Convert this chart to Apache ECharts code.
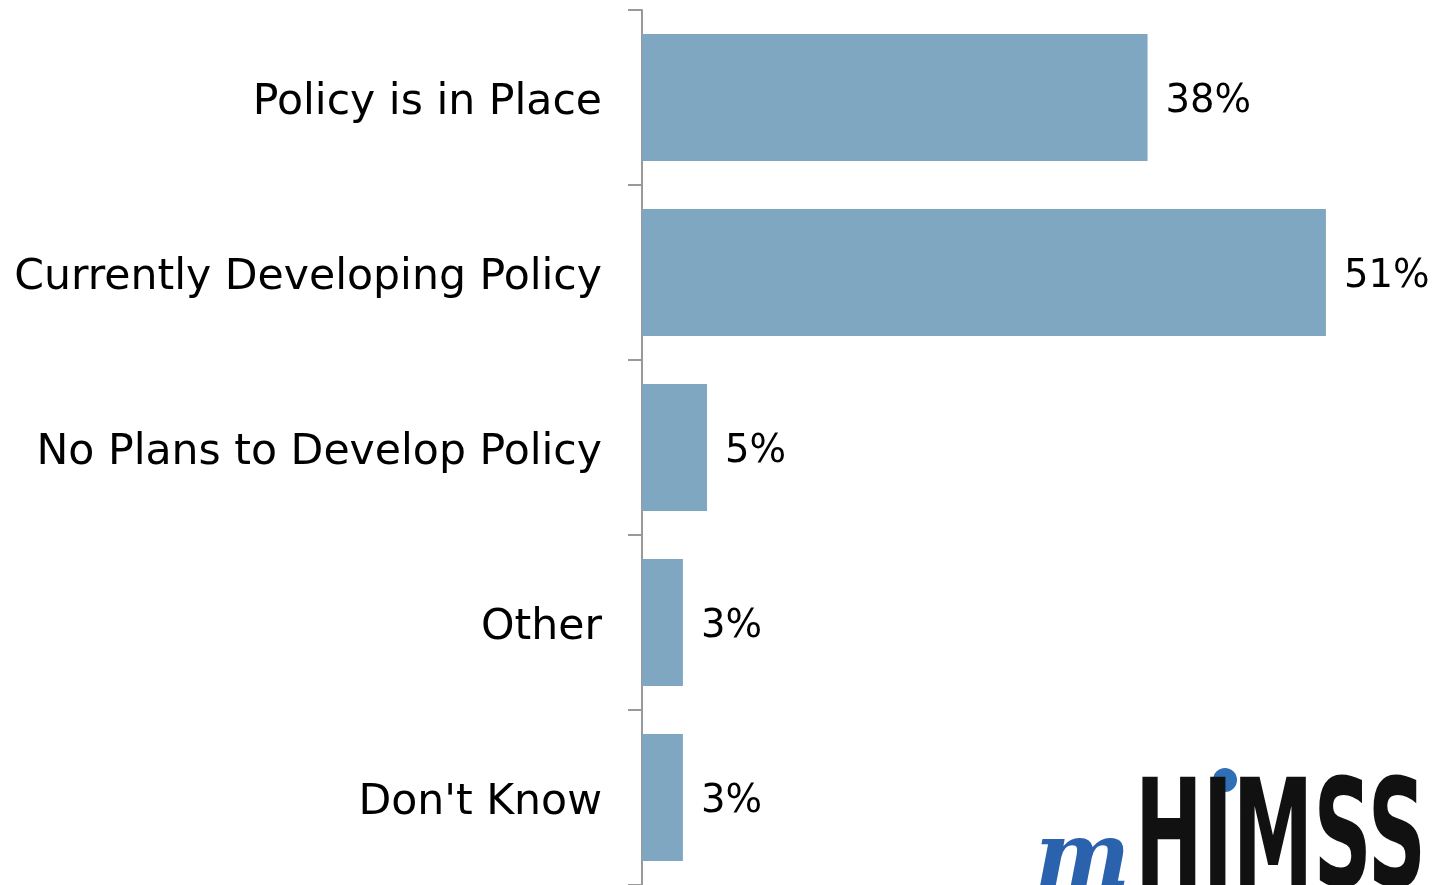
<!DOCTYPE html>
<html>
<head>
<meta charset="utf-8">
<script src="https://cdn.jsdelivr.net/npm/echarts@6/dist/echarts.min.js"></script>
<style>
html,body{margin:0;padding:0;background:#fff;}
#chart{width:1445px;height:885px;}
</style>
</head>
<body>
<div id="chart"></div>
<script>
const categories = ['Policy is in Place', 'Currently Developing Policy', 'No Plans to Develop Policy', 'Other', "Don't Know"];
const values = [37.7, 51, 4.85, 3.05, 3.05];
const valueLabels = ['38%', '51%', '5%', '3%', '3%'];

const chart = echarts.init(document.getElementById('chart'));
chart.setOption({
  animation: false,
  backgroundColor: '#ffffff',
  grid: { left: 642, top: 10, height: 878, right: 0 },
  xAxis: {
    type: 'value', min: 0, max: 59.88,
    show: false
  },
  yAxis: {
    type: 'category',
    data: categories,
    inverse: true,
    axisLine: { show: true, lineStyle: { color: '#999999', width: 2 } },
    axisTick: { show: true, length: 14, lineStyle: { color: '#999999', width: 2 } },
    axisLabel: {
      margin: 40,
      formatter: v => '{a|' + v + '}',
      rich: { a: { color: '#000000', fontSize: 42.6, fontFamily: 'DejaVu Sans', padding: [10, 0, 0, 0] } }
    },
    splitLine: { show: false }
  },
  series: [{
    type: 'bar',
    data: values,
    barCategoryGap: '27.5%',
    itemStyle: { color: '#7fa7c1' },
    label: {
      show: true, position: 'right', distance: 18, offset: [0, 4],
      color: '#000000', fontSize: 38.5, fontFamily: 'DejaVu Sans',
      formatter: p => valueLabels[p.dataIndex]
    }
  }],
  graphic: [
    { type: 'circle', shape: { cx: 1225, cy: 780, r: 12 }, style: { fill: '#2f6fb5' }, z: 10 },
    { type: 'text', x: 1135, y: 772, z: 10, scaleX: 0.6,
      style: { text: 'HIMSS', fontFamily: 'DejaVu Sans Condensed', fontWeight: 'bold', fontSize: 150, fill: '#111111' } },
    { type: 'text', x: 1035, y: 818, z: 11,
      style: { text: 'm', fontFamily: 'DejaVu Serif', fontStyle: 'italic', fontWeight: 'bold', fontSize: 90, fill: '#2a62ad' } }
  ]
});
</script>
</body>
</html>
